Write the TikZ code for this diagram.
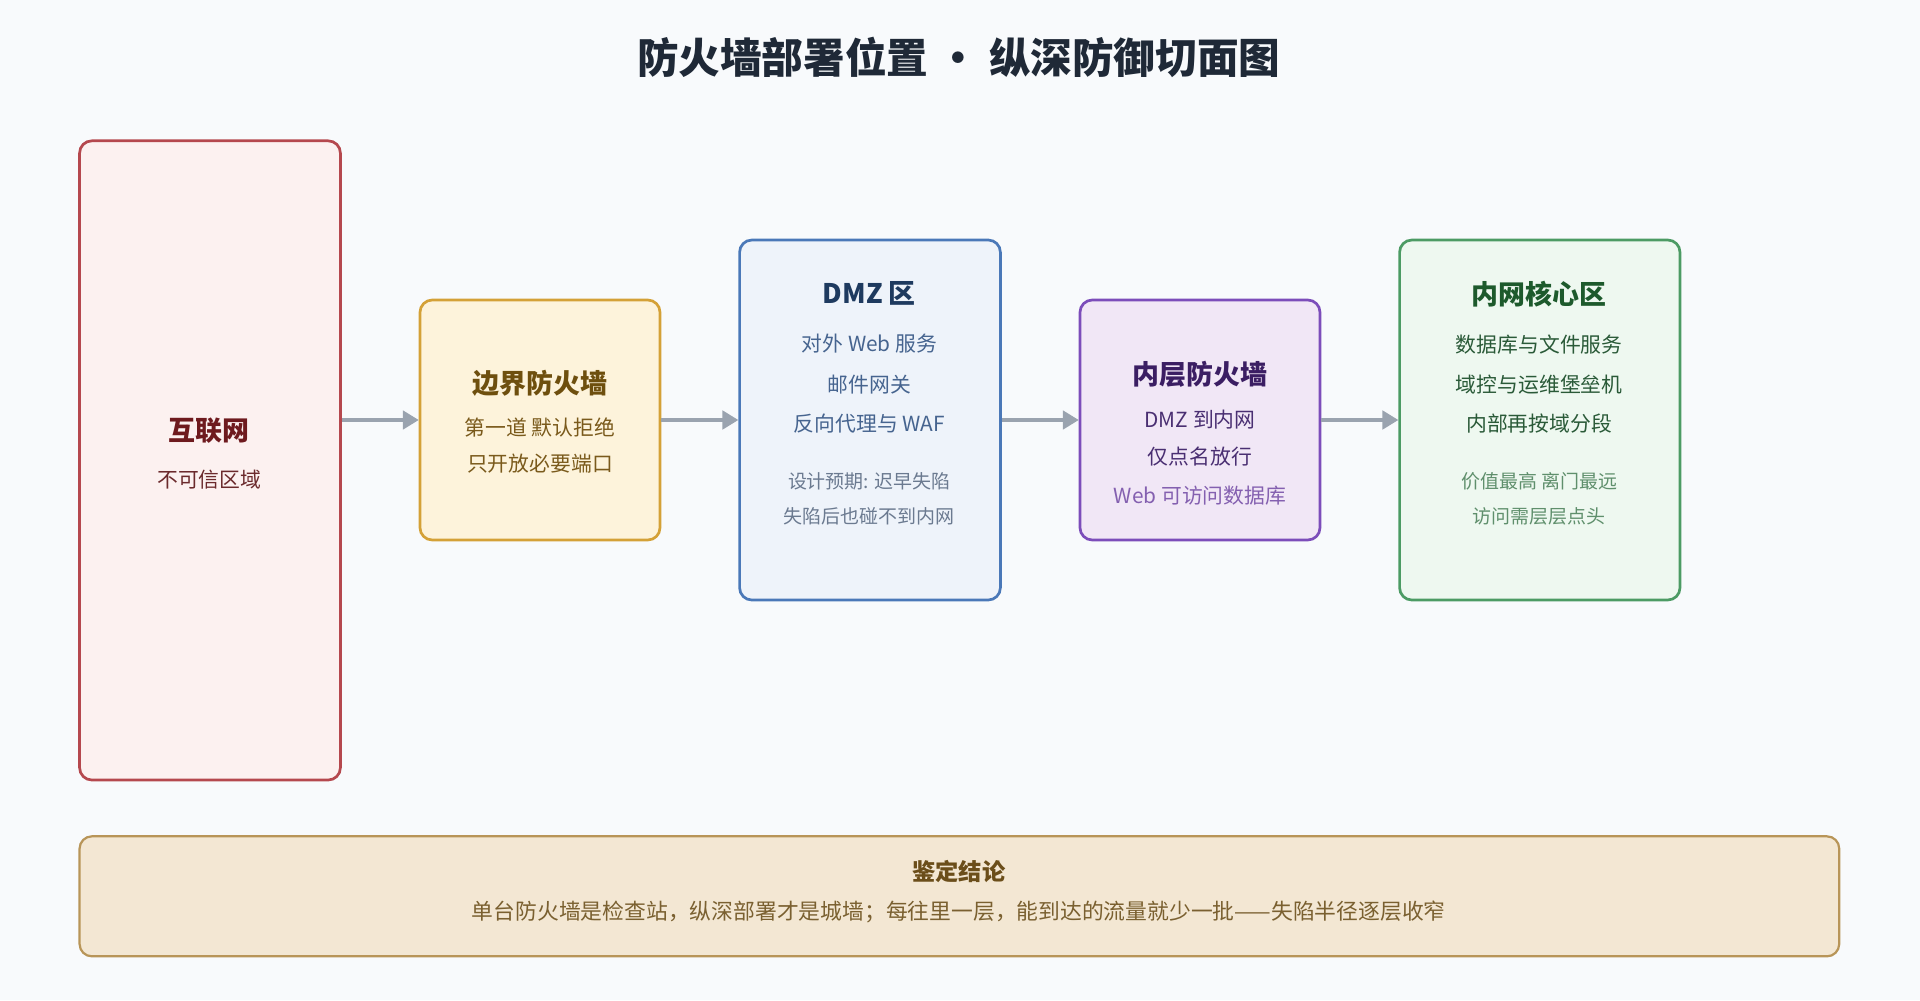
\documentclass[tikz,border=0pt]{standalone}
\usepackage{fontspec}
\setmainfont{Noto Sans CJK SC}
\usepackage{xcolor}
\usepackage{tikz}
\usetikzlibrary{positioning,calc,arrows.meta}
\definecolor{bgc}{HTML}{F8FAFC}
\definecolor{arrc}{HTML}{9AA3AF}
\definecolor{ink}{HTML}{1F2937}
\definecolor{netB}{HTML}{B5484E}\definecolor{netF}{HTML}{FCF1F0}
\definecolor{netT}{HTML}{6E1A1E}\definecolor{netS}{HTML}{6B2A2C}
\definecolor{bfwB}{HTML}{D4A137}\definecolor{bfwF}{HTML}{FDF3DB}
\definecolor{bfwT}{HTML}{6E4F0E}\definecolor{bfwS}{HTML}{7A5A1C}
\definecolor{dmzB}{HTML}{4A78B8}\definecolor{dmzF}{HTML}{EEF3FA}
\definecolor{dmzT}{HTML}{1E3A5F}\definecolor{dmzS}{HTML}{46648F}\definecolor{dmzG}{HTML}{6B7A90}
\definecolor{ifwB}{HTML}{7C4DBA}\definecolor{ifwF}{HTML}{F1E7F6}
\definecolor{ifwT}{HTML}{3B1E63}\definecolor{ifwS}{HTML}{4A2F72}\definecolor{ifwG}{HTML}{8460B0}
\definecolor{coreB}{HTML}{4C9B64}\definecolor{coreF}{HTML}{EEF8F0}
\definecolor{coreT}{HTML}{1D5A2C}\definecolor{coreS}{HTML}{2A5A38}\definecolor{coreG}{HTML}{5F8F6C}
\definecolor{verB}{HTML}{B89558}\definecolor{verF}{HTML}{F3E7D3}
\definecolor{verT}{HTML}{6B4E1A}\definecolor{verS}{HTML}{7A6030}
\tikzset{zone/.style={draw,line width=2.2pt,rounded corners=10pt},
  ttl/.style={font=\fontsize{22}{26}\selectfont\bfseries},
  txt/.style={font=\fontsize{17}{20}\selectfont},
  sml/.style={font=\fontsize{15.5}{18}\selectfont},
  flow/.style={draw=arrc,line width=3pt,-{Triangle[length=13pt,width=15pt]}}}
\begin{document}
\begin{tikzpicture}[x=1pt,y=-1pt]
\fill[bgc] (0,0) rectangle (1568,817);
\useasboundingbox (0,0) rectangle (1568,817);
\node[font=\fontsize{34}{40}\selectfont\bfseries,text=ink] (title) at (783,47) {防火墙部署位置 • 纵深防御切面图};
% zones
\draw[zone,draw=netB,fill=netF] (65,115) rectangle (278,637);
\draw[zone,draw=bfwB,fill=bfwF] (343,245) rectangle (539,441);
\draw[zone,draw=dmzB,fill=dmzF] (604,196) rectangle (817,490);
\draw[zone,draw=ifwB,fill=ifwF] (882,245) rectangle (1078,441);
\draw[zone,draw=coreB,fill=coreF] (1143,196) rectangle (1372,490);
% texts
\node[ttl,text=netT] (netH) at (171,352) {互联网};
\node[txt,text=netS] at (171,392) {不可信区域};
\node[ttl,text=bfwT] (bfwH) at (441,313) {边界防火墙};
\node[txt,text=bfwS] at (441,349) {第一道 默认拒绝};
\node[txt,text=bfwS] at (441,379) {只开放必要端口};
\node[ttl,text=dmzT] (dmzH) at (710,240) {DMZ 区};
\node[txt,text=dmzS] at (710,281) {对外 Web 服务};
\node[txt,text=dmzS] at (710,314) {邮件网关};
\node[txt,text=dmzS] at (710,346) {反向代理与 WAF};
\node[sml,text=dmzG] at (710,393) {设计预期: 迟早失陷};
\node[sml,text=dmzG] at (710,422) {失陷后也碰不到内网};
\node[ttl,text=ifwT] (ifwH) at (980,306) {内层防火墙};
\node[txt,text=ifwS] at (980,343) {DMZ 到内网};
\node[txt,text=ifwS] at (980,373) {仅点名放行};
\node[txt,text=ifwG] at (980,405) {Web 可访问数据库};
\node[ttl,text=coreT] (coreH) at (1257,240) {内网核心区};
\node[txt,text=coreS] at (1257,281) {数据库与文件服务};
\node[txt,text=coreS] at (1257,314) {域控与运维堡垒机};
\node[txt,text=coreS] at (1257,346) {内部再按域分段};
\node[sml,text=coreG] at (1257,393) {价值最高 离门最远};
\node[sml,text=coreG] at (1257,422) {访问需层层点头};
% arrows
\draw[flow] (279,343) -- (342,343);
\draw[flow] (540,343) -- (603,343);
\draw[flow] (818,343) -- (881,343);
\draw[flow] (1079,343) -- (1142,343);
% verdict
\draw[line width=1.8pt,rounded corners=10pt,draw=verB,fill=verF] (65,683) rectangle (1502,781);
\node[font=\fontsize{19}{22}\selectfont\bfseries,text=verT] (verd) at (783,712) {鉴定结论};
\node[font=\fontsize{17.8}{21}\selectfont,text=verS] (verdT) at (783,745) {单台防火墙是检查站，纵深部署才是城墙；每往里一层，能到达的流量就少一批——失陷半径逐层收窄};
\end{tikzpicture}
\end{document}
